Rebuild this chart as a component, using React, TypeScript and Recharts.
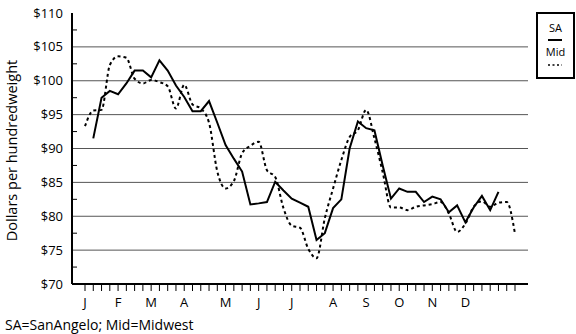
import { LineChart, Line, XAxis, YAxis, CartesianGrid, Legend } from "recharts"

// weekly prices, $ per hundredweight (week 0 = first week of Jan)
const WEEKS = Array.from({ length: 53 }, (_, i) => i)

const SA = [
  null, 91.5, 97.5, 98.5, 98.0, 99.6, 101.5, 101.5, 100.5, 103.0,
  101.5, 99.3, 97.6, 95.5, 95.5, 97.0, 93.8, 90.5, 88.5, 86.6,
  81.75, 81.9, 82.1, 85.1, 83.8, 82.6, 82.0, 81.4, 76.5, 77.5,
  81.2, 82.5, 90.0, 94.0, 93.0, 92.7, 87.5, 82.6, 84.1, 83.6,
  83.6, 82.1, 82.9, 82.5, 80.6, 81.6, 79.1, 81.3, 83.0, 80.9,
  83.6, null, null,
]

const MID = [
  93.3, 95.6, 95.7, 102.3, 103.6, 103.4, 100.3, 99.6, 100.1, 99.8,
  99.2, 95.9, 99.4, 96.5, 95.9, 93.8, 86.6, 84.1, 85.2, 89.3,
  90.4, 91.0, 86.8, 85.8, 81.2, 78.6, 78.3, 75.2, 73.8, 79.7,
  84.1, 88.3, 91.7, 92.7, 95.7, 91.5, 86.5, 81.3, 81.3, 80.9,
  81.4, 81.6, 81.8, 82.1, 80.4, 77.7, 78.9, 81.4, 82.2, 81.4,
  82.0, 82.1, 77.4,
]

const MONTHS = ["J", "F", "M", "A", "M", "J", "J", "A", "S", "O", "N", "D"]
const MONTH_WEEKS = [0, 4, 8, 12, 17, 21, 25, 30, 34, 38, 42, 46]

const Y_TICKS = [70, 72.5, 75, 77.5, 80, 82.5, 85, 87.5, 90, 92.5, 95, 97.5, 100, 102.5, 105, 107.5, 110]
const GRID_LINES = [75, 80, 85, 90, 95, 100, 105]

const FONT = "'Open Sans', sans-serif"

const data = WEEKS.map((w, i) => ({ week: w, sa: SA[i], mid: MID[i] }))

const XTick = ({ x, y, payload }: any) => {
  const idx = MONTH_WEEKS.indexOf(payload.value)
  return (
    <g>
      <line x1={x} x2={x} y1={y} y2={y + 7} stroke="#000" strokeWidth={1} />
      {idx >= 0 && (
        <text x={x} y={y + 23} textAnchor="middle" fontSize={13} fontFamily={FONT} fill="#000">
          {MONTHS[idx]}
        </text>
      )}
    </g>
  )
}

const YTick = ({ x, y, payload }: any) => {
  const v = payload.value
  if (v % 5 !== 0) {
    return <line x1={x} x2={x + 5} y1={y} y2={y} stroke="#000" strokeWidth={1} />
  }
  return (
    <text x={x - 9} y={y} dy={4.5} textAnchor="end" fontSize={13} fontFamily={FONT} fill="#000">
      ${v}
    </text>
  )
}

const YTitle = ({ viewBox }: any) => {
  const cx = viewBox.x + 11
  const cy = viewBox.y + viewBox.height / 2 + 2
  return (
    <text x={cx} y={cy} transform={`rotate(-90 ${cx} ${cy})`} textAnchor="middle" dominantBaseline="central"
      fontSize={14.5} fontFamily={FONT} fill="#000">
      Dollars per hundredweight
    </text>
  )
}

const LegendBox = () => (
  <svg width={39} height={67}>
    <rect x={1} y={1} width={37} height={65} fill="#fff" stroke="#000" strokeWidth={2} />
    <text x={19.5} y={20} textAnchor="middle" fontSize={11} fontFamily={FONT}>SA</text>
    <line x1={12} x2={26} y1={28} y2={28} stroke="#000" strokeWidth={2} />
    <text x={19.5} y={44} textAnchor="middle" fontSize={11} fontFamily={FONT}>Mid</text>
    <line x1={12} x2={26} y1={53} y2={53} stroke="#000" strokeWidth={1.5} strokeDasharray="2 2.5" />
  </svg>
)

export default function App() {
  return (
    <div style={{ position: "absolute", left: 0, top: 0, width: 576, height: 334, background: "#fff" }}>
      <LineChart width={576} height={334} data={data} margin={{ top: 13, right: 48, bottom: 18, left: 0 }}>
        <CartesianGrid vertical={false} horizontalValues={GRID_LINES} stroke="#555" strokeWidth={1} />
        <XAxis
          dataKey="week"
          type="number"
          domain={[0, 52]}
          ticks={WEEKS}
          interval={0}
          padding={{ left: 13, right: 13 }}
          height={32}
          tickSize={0}
          tickMargin={0}
          tickLine={false}
          tick={<XTick />}
          axisLine={{ stroke: "#000", strokeWidth: 2 }}
        />
        <XAxis xAxisId="top" orientation="top" dataKey="week" type="number" domain={[0, 52]} height={0}
          tick={false} tickLine={false} axisLine={{ stroke: "#000", strokeWidth: 2 }} />
        <YAxis
          type="number"
          domain={[70, 110]}
          ticks={Y_TICKS}
          interval={0}
          width={72}
          tickSize={0}
          tickMargin={0}
          tickLine={false}
          tick={<YTick />}
          axisLine={{ stroke: "#000", strokeWidth: 2 }}
          label={{ content: <YTitle /> }}
        />
        <YAxis yAxisId="right" orientation="right" domain={[70, 110]} width={0}
          tick={false} tickLine={false} axisLine={{ stroke: "#000", strokeWidth: 2 }} />
        <Legend
          layout="horizontal"
          verticalAlign="middle"
          align="center"
          content={<LegendBox />}
          wrapperStyle={{ left: 536, top: 12, width: 39, height: 67 }}
        />
        <Line
          dataKey="mid"
          name="Mid"
          type="monotone"
          stroke="#000"
          strokeWidth={2}
          strokeDasharray="3 3"
          dot={false}
          isAnimationActive={false}
        />
        <Line
          dataKey="sa"
          name="SA"
          type="linear"
          stroke="#000"
          strokeWidth={2}
          dot={false}
          isAnimationActive={false}
        />
      </LineChart>
      <div style={{ position: "absolute", left: 5, top: 315, fontSize: 14, fontFamily: FONT, lineHeight: "19px", whiteSpace: "nowrap" }}>
        SA=SanAngelo; Mid=Midwest
      </div>
    </div>
  )
}
